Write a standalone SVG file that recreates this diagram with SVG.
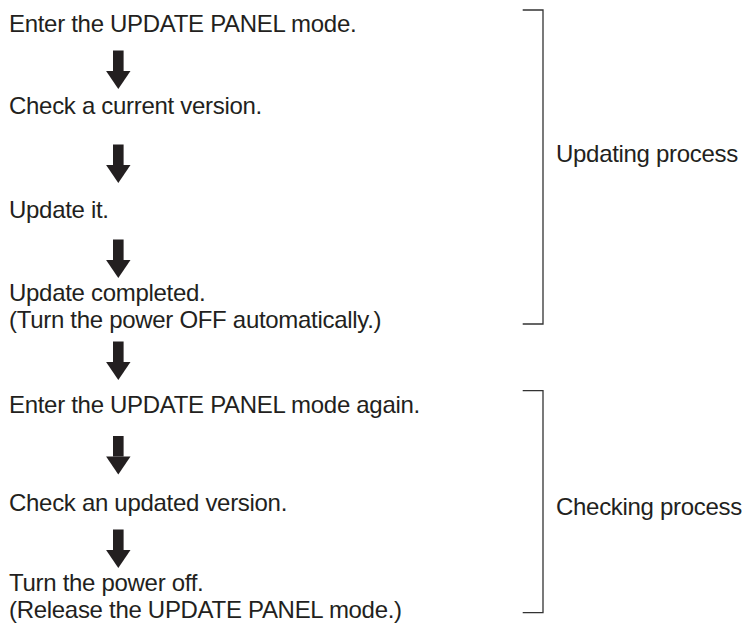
<svg xmlns="http://www.w3.org/2000/svg" width="749" height="624" viewBox="0 0 749 624">
<defs>
<style>
.t{font-family:"Liberation Sans",Arial,Helvetica,sans-serif;font-size:24px;fill:#231f20;letter-spacing:-0.3px}
.br{fill:none;stroke:#333;stroke-width:1.3}
.ar{fill:#231f20}
</style>
<g id="arrow">
<rect x="-5.3" y="0" width="10.6" height="20.5"/>
<polygon points="-12.2,20.5 12.2,20.5 0,38.5"/>
</g>
</defs>
<rect width="749" height="624" fill="#fff"/>
<g id="connectors" class="ar">
<use href="#arrow" x="118.3" y="50.5"/>
<use href="#arrow" x="118.3" y="144.5"/>
<use href="#arrow" x="118.3" y="239.5"/>
<use href="#arrow" x="118.3" y="341.5"/>
<use href="#arrow" x="118.3" y="436"/>
<use href="#arrow" x="118.3" y="529.5"/>
</g>
<g id="step1"><text class="t" x="9" y="32">Enter the UPDATE PANEL mode.</text></g>
<g id="step2"><text class="t" x="9" y="114">Check a current version.</text></g>
<g id="step3"><text class="t" x="9" y="218">Update it.</text></g>
<g id="step4"><text class="t" x="9" y="301">Update completed.</text><text class="t" x="9" y="328">(Turn the power OFF automatically.)</text></g>
<g id="step5"><text class="t" x="9" y="413">Enter the UPDATE PANEL mode again.</text></g>
<g id="step6"><text class="t" x="9" y="511">Check an updated version.</text></g>
<g id="step7"><text class="t" x="9" y="591">Turn the power off.</text><text class="t" x="9" y="618">(Release the UPDATE PANEL mode.)</text></g>
<g id="updating">
<polyline class="br" points="522.7,10 543,10 543,324 522.7,324"/>
<text class="t" x="556" y="162">Updating process</text>
</g>
<g id="checking">
<polyline class="br" points="522.7,390.7 543,390.7 543,612.7 522.7,612.7"/>
<text class="t" x="556" y="515">Checking process</text>
</g>
</svg>
